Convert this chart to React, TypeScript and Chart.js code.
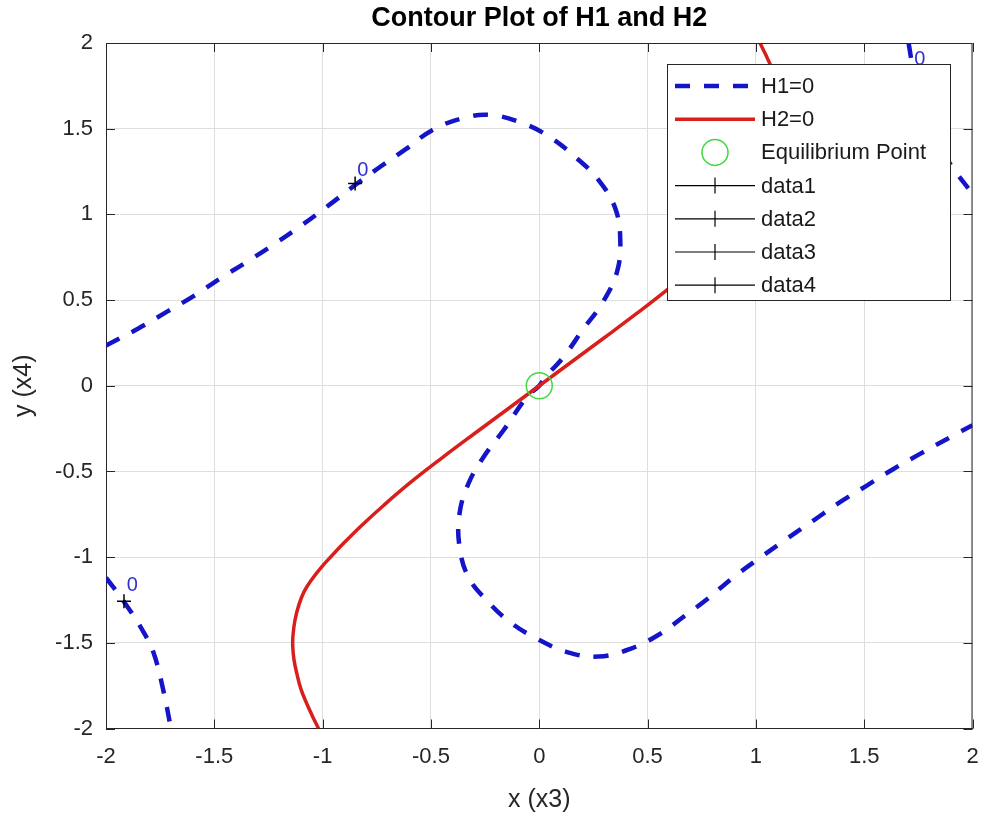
import React, { useEffect, useRef } from 'react';
import { Chart, registerables } from 'chart.js';

Chart.register(...registerables);

const FONT = '"Liberation Sans", Arial, Helvetica, sans-serif';
const BLUE = '#1414c8';
const RED = '#d81f1c';
const GREEN = '#3fd83f';
const AXIS = '#262626';

// H1 = 0 contour (main branch through the origin)
const h1Main: [number, number][] = [
  [-2.0, 0.235], [-1.851, 0.334], [-1.72, 0.431], [-1.589, 0.528], [-1.473, 0.626],
  [-1.35, 0.723], [-1.219, 0.83], [-1.096, 0.937], [-0.981, 1.044], [-0.85, 1.171],
  [-0.734, 1.278], [-0.611, 1.385], [-0.496, 1.49], [-0.357, 1.56], [-0.226, 1.58],
  [-0.072, 1.53], [0.05, 1.45], [0.174, 1.327], [0.274, 1.2], [0.351, 1.035],
  [0.374, 0.85], [0.359, 0.665], [0.29, 0.48], [0.205, 0.334], [0.112, 0.168],
  [0.028, 0.05], [0, 0], [-0.057, -0.065], [-0.165, -0.26], [-0.257, -0.416],
  [-0.327, -0.571], [-0.368, -0.746], [-0.368, -0.94], [-0.327, -1.117],
  [-0.242, -1.253], [-0.134, -1.38], [-0.011, -1.476], [0.128, -1.554],
  [0.274, -1.58], [0.42, -1.535], [0.559, -1.447], [0.674, -1.34], [0.767, -1.253],
  [0.897, -1.117], [1.013, -1.009], [1.144, -0.892], [1.267, -0.785], [1.39, -0.678],
  [1.514, -0.581], [1.637, -0.484], [1.76, -0.396], [1.899, -0.299], [2.0, -0.23],
];
// H1 = 0 small branches in the corners
const h1BottomLeft: [number, number][] = [
  [-2.0, -1.12], [-1.917, -1.26], [-1.83, -1.43], [-1.78, -1.56], [-1.735, -1.78], [-1.7, -2.0],
];
const h1TopRight: [number, number][] = [
  [1.705, 2.0], [1.735, 1.78], [1.78, 1.56], [1.83, 1.43], [1.91, 1.27], [2.0, 1.12],
];
// H2 = 0 contour
const h2Curve: [number, number][] = [
  [-1.019, -2.0], [-1.048, -1.925], [-1.075, -1.85], [-1.1, -1.77], [-1.119, -1.68],
  [-1.132, -1.6], [-1.138, -1.52], [-1.137, -1.46], [-1.128, -1.37], [-1.11, -1.28],
  [-1.085, -1.2], [-1.05, -1.13], [-1.01, -1.065], [-0.96, -0.995], [-0.9, -0.915],
  [-0.82, -0.815], [-0.72, -0.7], [-0.6, -0.57], [-0.45, -0.422], [-0.3, -0.28],
  [-0.15, -0.14], [0, 0], [0.15, 0.14], [0.3, 0.28], [0.45, 0.422], [0.6, 0.57],
  [0.72, 0.7], [0.82, 0.815], [0.9, 0.915], [0.96, 0.995], [1.01, 1.065],
  [1.05, 1.13], [1.085, 1.2], [1.11, 1.28], [1.128, 1.37], [1.137, 1.46],
  [1.138, 1.52], [1.132, 1.6], [1.119, 1.68], [1.1, 1.77], [1.075, 1.85],
  [1.048, 1.925], [1.019, 2.0],
];
const equilibrium: [number, number][] = [[0, 0]];
// clabel markers (data1..data4)
const labelMarkers: [number, number][] = [
  [-0.85, 1.18], [-1.917, -1.258], [1.72, 1.83], [1.85, 1.38],
];
// contour label texts "0"
const labelTexts: [number, number, string][] = [
  [-0.815, 1.258, '0'], [-1.878, -1.165, '0'], [1.757, 1.905, '0'],
];
const tickValues = [-2, -1.5, -1, -0.5, 0, 0.5, 1, 1.5, 2];
const legendLabels = ['H1=0', 'H2=0', 'Equilibrium Point', 'data1', 'data2', 'data3', 'data4'];

const pts = (a: [number, number][]) => a.map(([x, y]) => ({ x, y }));

const decor = {
  id: 'decor',
  afterDraw(chart: any) {
    const { ctx, chartArea: a, scales } = chart;
    const xs = scales.x, ys = scales.y;
    ctx.save();
    // box
    ctx.strokeStyle = AXIS;
    ctx.lineWidth = 1;
    ctx.beginPath();
    ctx.moveTo(a.left, a.top + 0.5);
    ctx.lineTo(a.right - 0.5, a.top + 0.5);
    ctx.lineTo(a.right - 0.5, a.bottom);
    ctx.stroke();
    // inner ticks
    const tl = 9;
    ctx.beginPath();
    tickValues.forEach((v) => {
      const px = Math.round(xs.getPixelForValue(v)) + 0.5;
      ctx.moveTo(px, a.bottom); ctx.lineTo(px, a.bottom - tl);
      ctx.moveTo(px, a.top); ctx.lineTo(px, a.top + tl);
      const py = Math.round(ys.getPixelForValue(v)) + 0.5;
      ctx.moveTo(a.left, py); ctx.lineTo(a.left + tl, py);
      ctx.moveTo(a.right, py); ctx.lineTo(a.right - tl, py);
    });
    ctx.stroke();
    // contour labels
    ctx.fillStyle = '#3030d0';
    ctx.font = `20px ${FONT}`;
    ctx.textAlign = 'center';
    ctx.textBaseline = 'middle';
    labelTexts.forEach(([x, y, t]) => {
      ctx.fillText(t, xs.getPixelForValue(x), ys.getPixelForValue(y));
    });
    // title
    const cx = (a.left + a.right) / 2;
    ctx.fillStyle = '#000';
    ctx.font = `bold 27px ${FONT}`;
    ctx.fillText('Contour Plot of H1 and H2', cx, 19);
    // axis titles
    ctx.fillStyle = AXIS;
    ctx.font = `25px ${FONT}`;
    ctx.fillText('x (x3)', cx, 800);
    ctx.save();
    ctx.translate(24, (a.top + a.bottom) / 2);
    ctx.rotate(-Math.PI / 2);
    ctx.fillText('y (x4)', 0, 0);
    ctx.restore();
    // legend
    const L = 667.5, T = 64.5, R = 950.5, B = 300.5;
    ctx.fillStyle = '#fff';
    ctx.fillRect(L, T, R - L, B - T);
    ctx.strokeStyle = AXIS;
    ctx.lineWidth = 1;
    ctx.strokeRect(L, T, R - L, B - T);
    const x0 = 675, x1 = 755, xm = 715, tx = 761;
    legendLabels.forEach((lab, i) => {
      const yy = 86 + i * 33.2;
      ctx.save();
      if (i === 0) {
        ctx.strokeStyle = BLUE; ctx.lineWidth = 4.5; ctx.setLineDash([15, 14]);
        ctx.beginPath(); ctx.moveTo(x0, yy); ctx.lineTo(x1, yy); ctx.stroke();
      } else if (i === 1) {
        ctx.strokeStyle = RED; ctx.lineWidth = 3.5;
        ctx.beginPath(); ctx.moveTo(x0, yy); ctx.lineTo(x1, yy); ctx.stroke();
      } else if (i === 2) {
        ctx.strokeStyle = GREEN; ctx.lineWidth = 1.5;
        ctx.beginPath(); ctx.arc(xm, yy, 13, 0, Math.PI * 2); ctx.stroke();
      } else {
        ctx.strokeStyle = '#000'; ctx.lineWidth = 1.2;
        ctx.beginPath(); ctx.moveTo(x0, yy); ctx.lineTo(x1, yy);
        ctx.moveTo(xm, yy - 8); ctx.lineTo(xm, yy + 8); ctx.stroke();
      }
      ctx.restore();
      ctx.fillStyle = '#1a1a1a';
      ctx.font = `22px ${FONT}`;
      ctx.textAlign = 'left';
      ctx.textBaseline = 'middle';
      ctx.fillText(lab, tx, yy + 1);
    });
    ctx.restore();
  },
};

export default function App() {
  const ref = useRef<HTMLCanvasElement>(null);
  useEffect(() => {
    if (!ref.current) return;
    const lineDs = (label: string, data: [number, number][], color: string, width: number, dash: number[], order: number) => ({
      label, data: pts(data), showLine: true, borderColor: color, borderWidth: width,
      borderDash: dash, pointRadius: 0, tension: 0.4, fill: false, order,
    });
    const chart = new Chart(ref.current, {
      type: 'scatter',
      data: {
        datasets: [
          ...labelMarkers.map((p, i) => ({
            label: `data${i + 1}`, data: pts([p]), showLine: false, pointStyle: 'cross',
            pointRadius: 7, pointBorderColor: '#000', pointBorderWidth: 1.5, order: 1,
          })),
          {
            label: 'Equilibrium Point', data: pts(equilibrium), showLine: false, pointStyle: 'circle',
            pointRadius: 13, pointBorderColor: GREEN, pointBackgroundColor: 'rgba(0,0,0,0)',
            pointBorderWidth: 1.5, order: 2,
          },
          lineDs('H2=0', h2Curve, RED, 3.5, [], 3),
          lineDs('H1=0', h1Main, BLUE, 4.5, [15, 14], 4),
          lineDs('H1=0', h1BottomLeft, BLUE, 4.5, [15, 14], 4),
          lineDs('H1=0', h1TopRight, BLUE, 4.5, [15, 14], 4),
        ] as any,
      },
      options: {
        animation: false,
        responsive: false,
        layout: { autoPadding: false, padding: { top: 43, right: 9.5, left: 0, bottom: 0 } },
        plugins: { legend: { display: false }, title: { display: false }, tooltip: { enabled: false } },
        scales: {
          x: {
            type: 'linear', min: -2, max: 2,
            ticks: { stepSize: 0.5, color: AXIS, font: { family: FONT, size: 22 }, padding: 15, maxRotation: 0, callback: (v: any) => String(v) },
            grid: { color: '#dedede', drawTicks: false },
            border: { color: AXIS, width: 1 },
            afterFit: (s: any) => { s.height = 88.5; s.paddingLeft = 0; s.paddingRight = 0; },
          },
          y: {
            type: 'linear', min: -2, max: 2,
            ticks: { stepSize: 0.5, color: AXIS, font: { family: FONT, size: 22 }, padding: 13, callback: (v: any) => String(v) },
            grid: { color: '#dedede', drawTicks: false },
            border: { color: AXIS, width: 1 },
            afterFit: (s: any) => { s.width = 106; s.paddingTop = 0; s.paddingBottom = 0; },
          },
        },
      } as any,
      plugins: [decor],
    });
    return () => chart.destroy();
  }, []);
  return (
    <div style={{ position: 'fixed', left: 0, top: 0, width: 982, height: 817, background: '#fff' }}>
      <canvas ref={ref} width={982} height={817} style={{ display: 'block' }} />
    </div>
  );
}
